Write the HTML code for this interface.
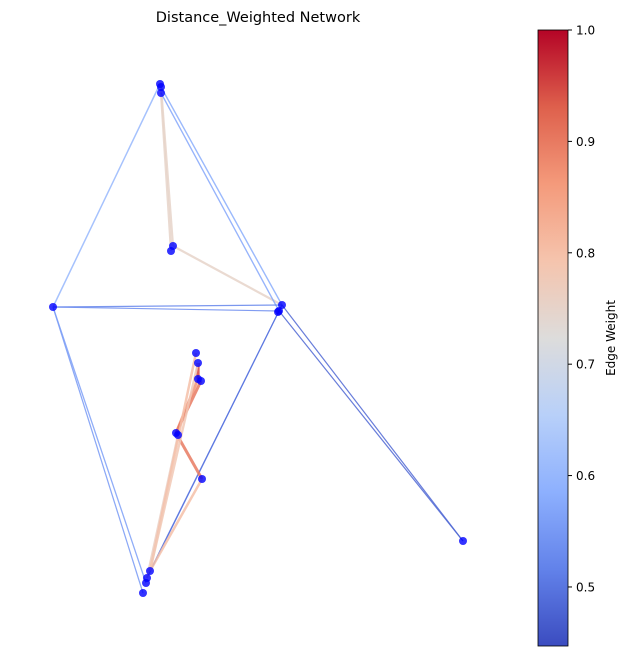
<!DOCTYPE html>
<html><head><meta charset="utf-8"><style>
body{margin:0;background:#fff;font-family:"DejaVu Sans","Liberation Sans",sans-serif}
</style></head><body>
<svg id="chart" width="629" height="656" xmlns="http://www.w3.org/2000/svg">
<defs><linearGradient id="cmap" x1="0" y1="1" x2="0" y2="0">
<stop offset="0" stop-color="rgb(59,76,192)"/><stop offset="0.125" stop-color="rgb(98,130,234)"/>
<stop offset="0.25" stop-color="rgb(141,176,254)"/><stop offset="0.375" stop-color="rgb(184,208,249)"/>
<stop offset="0.5" stop-color="rgb(221,220,219)"/><stop offset="0.625" stop-color="rgb(245,196,173)"/>
<stop offset="0.75" stop-color="rgb(244,154,123)"/><stop offset="0.875" stop-color="rgb(222,96,76)"/>
<stop offset="1" stop-color="rgb(180,4,38)"/></linearGradient></defs>
<text x="258" y="22" font-size="14.5" text-anchor="middle">Distance_Weighted Network</text>
<g id="edges"></g><g id="nodes"></g>
<rect x="538" y="30" width="30" height="616" fill="url(#cmap)" stroke="#000" stroke-width="0.8"/>
<g id="cbticks"></g>
<text transform="translate(615,338) rotate(-90)" font-size="12" text-anchor="middle">Edge Weight</text>
</svg>
<script>
const nodeX=[160,161,161,173,171,53,282,279,278,196,198,198,201,176,178,202,150,147,146,143,463];
const nodeY=[84,87,93,246,251,307,305,311,312,353,363,379,381,433,435,479,571,578,583,593,541];
const edgeFrom=[2,1,3,0,2,1,5,5,5,5,6,7,7,10,11,13,12,14,9,10,15,6];
const edgeTo=[4,3,6,5,7,6,6,7,19,18,16,17,20,11,13,15,13,17,16,16,16,20];
const edgeWeights=[0.75,0.75,0.75,0.6,0.57,0.58,0.52,0.53,0.55,0.56,0.49,0.5,0.48,0.95,0.87,0.9,0.9,0.76,0.8,0.78,0.8,0.48];
const tickValues=[0.5,0.6,0.7,0.8,0.9,1.0];
const vmin=0.447,vmax=1.0,cbTop=30,cbBot=646;
const stops=[[59,76,192],[98,130,234],[141,176,254],[184,208,249],[221,220,219],[245,196,173],[244,154,123],[222,96,76],[180,4,38]];
function cmap(v){let t=Math.max(0,Math.min(1,(v-vmin)/(vmax-vmin)))*8;let i=Math.min(7,Math.floor(t)),f=t-i;
const c=stops[i].map((a,k)=>Math.round(a+(stops[i+1][k]-a)*f));return `rgb(${c})`;}
function cbY(v){return cbBot-(v-vmin)/(vmax-vmin)*(cbBot-cbTop);}
const NS="http://www.w3.org/2000/svg";
const eg=document.getElementById('edges'),ng=document.getElementById('nodes'),tg=document.getElementById('cbticks');
edgeWeights.forEach((w,i)=>{const l=document.createElementNS(NS,'line');
l.setAttribute('x1',nodeX[edgeFrom[i]]);l.setAttribute('y1',nodeY[edgeFrom[i]]);
l.setAttribute('x2',nodeX[edgeTo[i]]);l.setAttribute('y2',nodeY[edgeTo[i]]);
l.setAttribute('stroke',cmap(w));l.setAttribute('stroke-width',Math.max(1.2,w*5-1.5).toFixed(2));l.setAttribute('stroke-opacity',0.85);


eg.appendChild(l);});
nodeX.forEach((x,i)=>{const c=document.createElementNS(NS,'circle');
c.setAttribute('cx',x);c.setAttribute('cy',nodeY[i]);c.setAttribute('r',4);c.setAttribute('fill','#0000ff');c.setAttribute('fill-opacity',0.8);


ng.appendChild(c);});
tickValues.forEach(v=>{const y=cbY(v);const l=document.createElementNS(NS,'line');
l.setAttribute('x1',568);l.setAttribute('x2',572);l.setAttribute('y1',y);l.setAttribute('y2',y);l.setAttribute('stroke','#000');


tg.appendChild(l);
const t=document.createElementNS(NS,'text');t.setAttribute('x',576);t.setAttribute('y',y+4.5);t.setAttribute('font-size',12);
t.textContent=v.toFixed(1);


tg.appendChild(t);});
</script>
</body></html>
